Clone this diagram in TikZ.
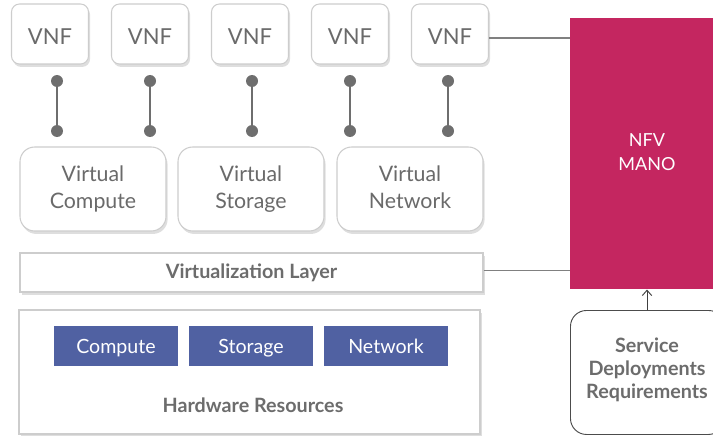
\documentclass[tikz,border=0pt]{standalone}
\usepackage{fontspec}
\setmainfont{Lato}
\usetikzlibrary{shadows,arrows.meta}
\definecolor{txtgray}{HTML}{6A6A6A}
\definecolor{boldgray}{HTML}{6C6C6C}
\definecolor{linegray}{HTML}{6E6E6E}
\definecolor{bordergray}{HTML}{CDCDCD}
\definecolor{hwblue}{HTML}{5061A2}
\definecolor{manored}{HTML}{C42660}
\def\px{0.75pt}
\tikzset{
  shad/.style={drop shadow={shadow xshift=1.2pt, shadow yshift=-2.2pt, opacity=0.13, fill=black}},
  vnfbox/.style={draw=bordergray, line width=0.8pt, rounded corners=6pt, fill=white, shad,
    minimum width=77*\px, minimum height=60*\px, text=txtgray, text height=16pt, text depth=0pt,
    font=\fontsize{16.5}{19}\selectfont},
  virtbox/.style={draw=bordergray, line width=0.8pt, rounded corners=11pt, fill=white, shad,
    minimum width=146*\px, minimum height=84*\px, text=txtgray, align=center,
    font=\fontsize{16}{20}\selectfont},
  layerbox/.style={draw=bordergray, line width=0.8pt, fill=white, shad, text=boldgray},
  hwbox/.style={fill=hwblue, text=white, minimum width=124*\px, minimum height=40*\px,
    text height=13.6pt, text depth=3pt, font=\fontsize{14.7}{16}\selectfont},
  dot/.style={circle, fill=linegray, inner sep=0pt, minimum size=12*\px},
  vline/.style={draw=linegray, line width=1.5pt},
  hline/.style={draw=gray, line width=0.9pt},
  boldtxt/.style={text=boldgray, font=\bfseries\fontsize{14.8}{17.25}\selectfont},
}
\begin{document}
\begin{tikzpicture}[x=0.75pt, y=-0.75pt]
\useasboundingbox (0,0) rectangle (713,435);
\clip (0,0) rectangle (713,435);
% VNF boxes
\foreach \i/\cx in {1/50,2/150,3/250,4/350,5/450}{
  \node[vnfbox] (vnf\i) at (\cx,34) {VNF};
}
% dots and links
\foreach \i/\dx in {1/57,2/150,3/252,4/350,5/448}{
  \node[dot] (da\i) at (\dx,81) {};
  \node[dot] (db\i) at (\dx,131) {};
  \draw[vline] (da\i) -- (db\i);
}
% virtual boxes
\node[virtbox] (vc) at (93,189) {Virtual\\Compute};
\node[virtbox] (vs) at (251,189) {Virtual\\Storage};
\node[virtbox] (vn) at (410,189) {Virtual\\Network\vphantom{g}};
% virtualization layer
\node[layerbox, boldtxt, minimum width=463*\px, minimum height=39*\px] (vl) at (251.5,272.5) {Virtualization Layer};
% hardware
\node[layerbox, minimum width=461*\px, minimum height=124*\px] (hw) at (249.5,372) {};
\node[hwbox] (hc) at (116,346) {Compute};
\node[hwbox] (hs) at (251,346) {Storage};
\node[hwbox] (hn) at (386,346) {Network};
\node[boldtxt] (hwl) at (253,405.5) {Hardware Resources};
% MANO
\node[fill=manored, minimum width=160*\px, minimum height=271*\px, anchor=north west, inner sep=0pt] (mano) at (570,18) {};
\node[text=white, align=center, font=\fontsize{13.5}{18}\selectfont] (manot) at (647,152) {NFV\\MANO};
% service
\node[draw=black!70, line width=0.7pt, rounded corners=12pt, fill=white, minimum width=154*\px, minimum height=124*\px, anchor=north west] (svc) at (570,310) {};
\node[boldtxt, align=center] (svct) at (647,370) {Service\\Deployments\\Requirements};
% connectors
\draw[hline] ([yshift=-3pt]vnf5.east) -- ([yshift=-3pt]vnf5.east -| mano.west);
\draw[hline] ([yshift=1.5pt]vl.east) -- ([yshift=1.5pt]vl.east -| mano.west);
\draw[-{Straight Barb[length=4pt,width=7pt]}, black!75, line width=0.7pt] (svc.north -| manot) -- (mano.south -| manot);
\end{tikzpicture}
\end{document}
